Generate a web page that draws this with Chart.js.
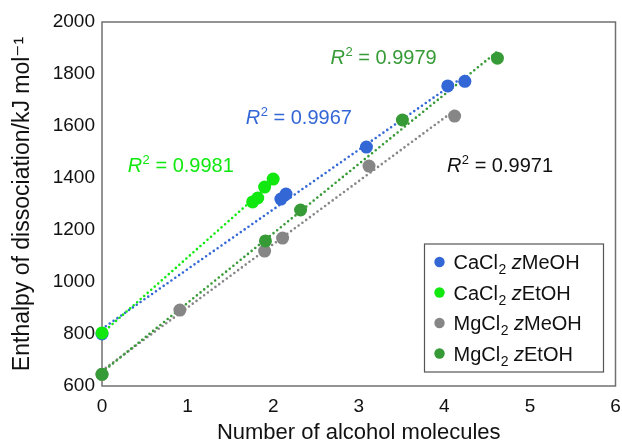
<!DOCTYPE html>
<html>
<head>
<meta charset="utf-8">
<script src="https://cdn.jsdelivr.net/npm/chart.js@4/dist/chart.umd.min.js"></script>
<style>
  html, body { margin: 0; padding: 0; background: #fff; }
  #wrap { width: 622px; height: 444px; }
</style>
</head>
<body>
<div id="wrap"><canvas id="c" width="622" height="444"></canvas></div>
<script>
// Axis ticks
const xTicks = [0, 1, 2, 3, 4, 5, 6];
const yTicks = [600, 800, 1000, 1200, 1400, 1600, 1800, 2000];

// Enthalpy of dissociation (kJ/mol) vs number of alcohol molecules
const caMeOH_x = [0, 2.09, 2.15, 3.09, 4.04, 4.24];
const caMeOH_y = [800, 1319, 1338, 1519, 1754, 1772];

const caEtOH_x = [0, 1.76, 1.82, 1.90, 2.00];
const caEtOH_y = [804, 1308, 1323, 1365, 1396];

const mgMeOH_x = [0, 0.91, 1.90, 2.11, 3.12, 4.12];
const mgMeOH_y = [645, 892, 1119, 1169, 1446, 1638];

const mgEtOH_x = [0, 1.91, 2.32, 3.51, 4.62];
const mgEtOH_y = [645, 1158, 1277, 1623, 1861];

// Coefficients of determination of the linear fits
const r2Values = ['0.9967', '0.9981', '0.9971', '0.9979'];

const FONT = '"Liberation Sans", Arial, Helvetica, sans-serif';
const COLORS = {
  caMeOH: '#3467d6',
  caEtOH: '#10e810',
  mgMeOH: '#868686',
  mgEtOH: '#369a36'
};

const zip = (xs, ys) => xs.map((x, i) => ({ x, y: ys[i] }));

// Least-squares straight line through a series, from its first to its last point
function fitLine(xs, ys) {
  const n = xs.length;
  const mx = xs.reduce((a, b) => a + b, 0) / n;
  const my = ys.reduce((a, b) => a + b, 0) / n;
  let sxy = 0, sxx = 0;
  for (let i = 0; i < n; i++) {
    sxy += (xs[i] - mx) * (ys[i] - my);
    sxx += (xs[i] - mx) * (xs[i] - mx);
  }
  const k = sxy / sxx;
  const b = my - k * mx;
  const x0 = Math.min(...xs), x1 = Math.max(...xs);
  return [{ x: x0, y: b + k * x0 }, { x: x1, y: b + k * x1 }];
}

const series = [
  { key: 'caMeOH', name: 'CaCl', salt: '2', alc: 'MeOH', xs: caMeOH_x, ys: caMeOH_y, order: 4 },
  { key: 'caEtOH', name: 'CaCl', salt: '2', alc: 'EtOH', xs: caEtOH_x, ys: caEtOH_y, order: 2 },
  { key: 'mgMeOH', name: 'MgCl', salt: '2', alc: 'MeOH', xs: mgMeOH_x, ys: mgMeOH_y, order: 3 },
  { key: 'mgEtOH', name: 'MgCl', salt: '2', alc: 'EtOH', xs: mgEtOH_x, ys: mgEtOH_y, order: 1 }
];

const datasets = [];
series.forEach(s => {
  datasets.push({
    label: s.name + s.salt + ' z' + s.alc + ' fit',
    data: fitLine(s.xs, s.ys),
    showLine: true,
    borderColor: COLORS[s.key],
    borderWidth: 2.6,
    borderDash: [0, 4.7],
    borderCapStyle: 'round',
    pointRadius: 0,
    fill: false,
    clip: false,
    order: 10 + s.order
  });
});
series.forEach(s => {
  datasets.push({
    label: s.name + s.salt + ' z' + s.alc,
    data: zip(s.xs, s.ys),
    showLine: false,
    backgroundColor: COLORS[s.key],
    borderColor: COLORS[s.key],
    borderWidth: 0,
    pointRadius: 6.5,
    pointHoverRadius: 6.5,
    clip: false,
    order: s.order
  });
});

// R² annotations, anchored in data coordinates (left end, baseline)
const r2Labels = [
  { text: r2Values[0], color: COLORS.caMeOH, x: 1.68, y: 1608 },
  { text: r2Values[1], color: COLORS.caEtOH, x: 0.30, y: 1423 },
  { text: r2Values[2], color: '#111111', x: 4.03, y: 1423 },
  { text: r2Values[3], color: COLORS.mgEtOH, x: 2.67, y: 1838 }
];

// Box around the plot area
const framePlugin = {
  id: 'frame',
  beforeDatasetsDraw(chart) {
    const { ctx, chartArea: a } = chart;
    ctx.save();
    ctx.strokeStyle = '#707070';
    ctx.lineWidth = 1.5;
    ctx.strokeRect(a.left, a.top, a.right - a.left, a.bottom - a.top);
    ctx.restore();
  }
};

const r2Plugin = {
  id: 'r2',
  afterDraw(chart) {
    const { ctx, scales: { x, y } } = chart;
    ctx.save();
    ctx.textBaseline = 'alphabetic';
    ctx.textAlign = 'left';
    r2Labels.forEach(l => {
      let px = x.getPixelForValue(l.x);
      const py = y.getPixelForValue(l.y);
      ctx.fillStyle = l.color;
      ctx.font = 'italic 20px ' + FONT;
      ctx.fillText('R', px, py);
      px += ctx.measureText('R').width + 0.5;
      ctx.font = '13px ' + FONT;
      ctx.fillText('2', px, py - 8);
      px += ctx.measureText('2').width;
      ctx.font = '20px ' + FONT;
      ctx.fillText(' = ' + l.text, px, py);
    });
    ctx.restore();
  }
};

// Boxed legend with subscripted formulas and italic z
const legendPlugin = {
  id: 'boxLegend',
  afterDraw(chart) {
    const { ctx, chartArea: a } = chart;
    const w = 179, h = 128;
    const right = a.right - 12, bottom = a.bottom - 14;
    const left = right - w, top = bottom - h;
    ctx.save();
    ctx.fillStyle = '#ffffff';
    ctx.fillRect(left, top, w, h);
    ctx.strokeStyle = '#555555';
    ctx.lineWidth = 1.2;
    ctx.strokeRect(left, top, w, h);
    ctx.textBaseline = 'alphabetic';
    ctx.textAlign = 'left';
    series.forEach((s, i) => {
      const cy = top + 18 + i * 30.5;
      ctx.fillStyle = COLORS[s.key];
      ctx.beginPath();
      ctx.arc(left + 15, cy, 5.2, 0, Math.PI * 2);
      ctx.fill();
      ctx.fillStyle = '#111111';
      let px = left + 29;
      const base = cy + 7;
      ctx.font = '20px ' + FONT;
      ctx.fillText(s.name, px, base);
      px += ctx.measureText(s.name).width;
      ctx.font = '14px ' + FONT;
      ctx.fillText(s.salt, px + 0.5, base + 5);
      px += ctx.measureText(s.salt).width + 0.5;
      ctx.font = '20px ' + FONT;
      px += ctx.measureText(' ').width;
      ctx.font = 'italic 20px ' + FONT;
      ctx.fillText('z', px, base);
      px += ctx.measureText('z').width;
      ctx.font = '20px ' + FONT;
      ctx.fillText(s.alc, px, base);
    });
    ctx.restore();
  }
};

new Chart(document.getElementById('c'), {
  type: 'scatter',
  data: { datasets },
  options: {
    responsive: false,
    animation: false,
    devicePixelRatio: 1,
    layout: { padding: { top: 22, right: 0, bottom: 0, left: 0 } },
    plugins: { legend: { display: false }, tooltip: { enabled: false } },
    scales: {
      x: {
        type: 'linear',
        min: xTicks[0],
        max: xTicks[xTicks.length - 1],
        afterBuildTicks: sc => { sc.ticks = xTicks.map(v => ({ value: v })); },
        afterFit: sc => { sc.height = 58; sc.paddingRight = 4; },
        grid: { display: false, drawTicks: false },
        border: { display: false },
        ticks: { color: '#111', font: { family: FONT, size: 19 }, padding: 9, callback: v => String(v) },
        title: {
          display: true,
          text: 'Number of alcohol molecules',
          color: '#111',
          font: { family: FONT, size: 22, lineHeight: 1.05 },
          padding: { top: 0, bottom: 0 }
        }
      },
      y: {
        type: 'linear',
        min: yTicks[0],
        max: yTicks[yTicks.length - 1],
        afterBuildTicks: sc => { sc.ticks = yTicks.map(v => ({ value: v })); },
        afterFit: sc => { sc.width = 102; },
        grid: { display: false, drawTicks: false },
        border: { display: false },
        ticks: { color: '#111', font: { family: FONT, size: 19 }, padding: 7, callback: v => String(v) },
        title: {
          display: true,
          text: 'Enthalpy of dissociation/kJ mol\u207B\u00B9',
          color: '#111',
          font: { family: FONT + ', "DejaVu Sans"', size: 23, lineHeight: 1.1 },
          padding: { top: 10, bottom: 0 }
        }
      }
    }
  },
  plugins: [framePlugin, r2Plugin, legendPlugin]
});
</script>
</body>
</html>
